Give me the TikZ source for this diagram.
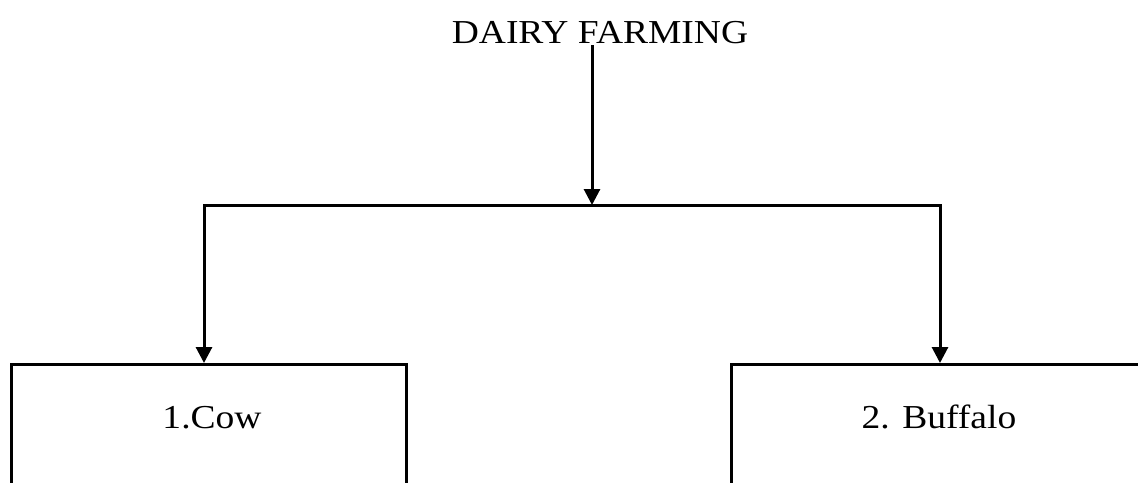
\documentclass[tikz,border=0pt]{standalone}
\usepackage{fontspec}
\setmainfont{Liberation Serif}[FakeStretch=1.12]
\usetikzlibrary{arrows.meta}
\tikzset{
  wire/.style={line width=3pt, draw=black},
  tip/.style={-{Triangle[width=16pt,length=16pt]}},
  bothtips/.style={{Triangle[width=16pt,length=16pt]}-{Triangle[width=16pt,length=16pt]}},
  box/.style={draw=black, line width=3pt, rectangle, inner sep=0pt, anchor=north},
  txt/.style={font=\fontsize{33.5}{40}\selectfont, inner sep=0pt, anchor=base},
}
\begin{document}
\begin{tikzpicture}[x=1pt, y=-1pt]
  \useasboundingbox (0,0) rectangle (1138,482);
  \clip (0,0) rectangle (1138,482);

  % heading
  \node[txt] (title) at (600,43) {DAIRY FARMING};

  % the two category boxes (running off the bottom edge)
  \node[box, minimum width=395pt, minimum height=240pt] (cow) at (208.5,363) {};
  \node[box, minimum width=430pt, minimum height=240pt] (buf) at (946,363) {};
  \node[txt] (cowtxt) at (212,428) {1.Cow};
  \node[txt] (buftxt) at (939,428) {2. Buffalo};

  % junction points of the connector tree
  \coordinate (top) at (592,45);
  \coordinate (hub) at (592,205);
  \coordinate (lj) at (204,205);
  \coordinate (rj) at (940,205);

  \draw[wire, tip] (top) -- (hub);
  \draw[wire, bothtips] (lj |- cow.north) -- (lj) -- (rj) -- (rj |- buf.north);
\end{tikzpicture}
\end{document}
